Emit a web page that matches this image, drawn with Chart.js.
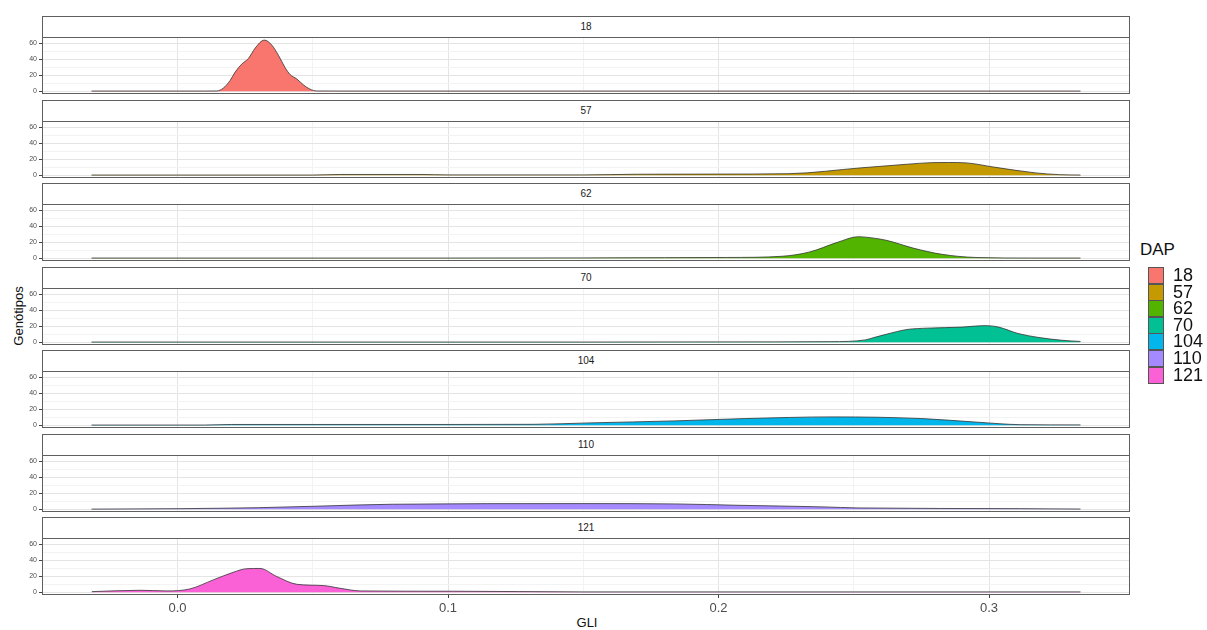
<!DOCTYPE html>
<html>
<head>
<meta charset="utf-8">
<script src="https://cdn.jsdelivr.net/npm/chart.js@4.4.0/dist/chart.umd.min.js"></script>
<style>
  body { margin: 0; background: #fff; font-family: "Liberation Sans", Arial, sans-serif; }
  #wrap { position: relative; width: 1207px; height: 630px; overflow: hidden; background: #fff; }
  .strip { position: absolute; box-sizing: border-box; border: 1px solid #5f5f5f; background: #fff;
           font-size: 10px; color: #1a1a1a; text-align: center; line-height: 20px; }
  canvas { position: absolute; left: 0; }
  .ytitle { position: absolute; left: 18px; top: 316px; transform: translate(-50%, -50%) rotate(-90deg);
            font-size: 13px; color: #111; white-space: nowrap; }
  .xtitle { position: absolute; left: 587px; top: 622px; transform: translate(-50%, -50%);
            font-size: 13px; color: #111; }
  .legtitle { position: absolute; left: 1140px; top: 240px; font-size: 17px; color: #111; }
  .key { position: absolute; left: 1148px; width: 16px; box-sizing: border-box; border: 1px solid #555; }
  .keylab { position: absolute; left: 1173px; font-size: 18px; color: #111; line-height: 17px; }
</style>
</head>
<body>
<div id="wrap">
  <div class="ytitle">Genótipos</div>
  <div class="xtitle">GLI</div>
  <div class="legtitle">DAP</div>
</div>
<script>
// DAP groups and ggplot default hues
const dapLabels = ['18', '57', '62', '70', '104', '110', '121'];
const dapColors = ['#F8766D', '#C49A00', '#53B400', '#00C094', '#00B6EB', '#A58AFF', '#FB61D7'];

// density curves (GLI, density)
const gli18  = [-0.0318, 0.0, 0.010, 0.0145, 0.0169, 0.0194, 0.0213, 0.0237, 0.0262, 0.0287, 0.0321, 0.0348, 0.0373, 0.0397, 0.0416, 0.0441, 0.0465, 0.049, 0.0515, 0.06, 0.15, 0.3338];
const dens18 = [0.3, 0.3, 0.3, 0.4, 3.9, 13.3, 24, 33.9, 41, 54, 64, 58, 45, 30, 21, 15.4, 8.1, 2.6, 0.4, 0.3, 0.3, 0.3];

const gli57  = [-0.0318, 0.05, 0.06, 0.09, 0.10, 0.15, 0.17, 0.20, 0.226, 0.253, 0.2697, 0.2787, 0.285, 0.2915, 0.3017, 0.3171, 0.326, 0.3338];
const dens57 = [0.3, 0.3, 1, 1, 0.5, 0.5, 1.3, 1.5, 2, 9.4, 13.8, 15.8, 16, 15.5, 10.3, 3, 0.8, 0.3];

const gli62  = [-0.0318, 0.10, 0.15, 0.18, 0.203, 0.2234, 0.2338, 0.244, 0.2517, 0.2567, 0.262, 0.2722, 0.2825, 0.2952, 0.3158, 0.3338];
const dens62 = [0.3, 0.3, 0.5, 0.8, 1, 2.5, 8, 20, 27, 25.5, 22.5, 12.5, 5, 1, 0.3, 0.3];

const gli70  = [-0.0318, 0.15, 0.20, 0.2415, 0.2543, 0.2575, 0.262, 0.2697, 0.2774, 0.2902, 0.295, 0.2992, 0.3035, 0.3107, 0.3184, 0.327, 0.3338];
const dens70 = [0.3, 0.3, 0.5, 0.8, 3, 6, 10, 16, 17.7, 19, 20.3, 20.8, 19, 11, 6, 2.5, 1];

const gli104  = [-0.0318, 0.01, 0.02, 0.10, 0.1316, 0.1525, 0.1838, 0.2099, 0.2425, 0.2751, 0.2959, 0.3115, 0.3338];
const dens104 = [0.3, 0.3, 1, 1, 1.2, 3, 5.5, 8.4, 10.5, 8.4, 3.8, 0.8, 0.5];

const gli110  = [-0.0318, 0.0013, 0.030, 0.0508, 0.0795, 0.1499, 0.1838, 0.2072, 0.2386, 0.2516, 0.3115, 0.3338];
const dens110 = [0.2, 0.8, 2, 3.8, 6.3, 7.1, 6.7, 5, 3, 1.7, 0.8, 0.3];

const gli121  = [-0.0317, -0.0139, -0.004, 0.0046, 0.0132, 0.0206, 0.0256, 0.0305, 0.0367, 0.0441, 0.0539, 0.0601, 0.0675, 0.102, 0.15, 0.3338];
const dens121 = [0.8, 2.5, 1.7, 4.2, 15.5, 25, 29.5, 29.8, 19.7, 10, 8.4, 5, 1.7, 1.3, 0.5, 0.5];

const panelGli  = [gli18, gli57, gli62, gli70, gli104, gli110, gli121];
const panelDens = [dens18, dens57, dens62, dens70, dens104, dens110, dens121];

// axes
const xTicks = [0, 0.1, 0.2, 0.3];
const xTickLabels = ['0.0', '0.1', '0.2', '0.3'];
const xMinor = [0.05, 0.15, 0.25];
const yTicks = [0, 20, 40, 60];
const yMinor = [10, 30, 50];

const isIn = (arr, v) => arr.some(t => Math.abs(t - v) < 1e-9);

const panelBox = {
  id: 'panelBox',
  afterDraw(chart) {
    const { ctx, chartArea: a } = chart;
    ctx.save();
    ctx.strokeStyle = '#5f5f5f';
    ctx.lineWidth = 1;
    ctx.strokeRect(Math.round(a.left) + 0.5, Math.round(a.top) + 0.5, Math.round(a.width) - 1, Math.round(a.height) - 1);
    ctx.restore();
  }
};

const wrap = document.getElementById('wrap');
const pitch = 83.55;
const plotH = 57;

dapLabels.forEach((lab, i) => {
  const isLast = i === dapLabels.length - 1;
  const stripTop = Math.round(16 + pitch * i);
  const plotTop = stripTop + 21;

  const strip = document.createElement('div');
  strip.className = 'strip';
  strip.style.left = '42px';
  strip.style.width = '1088px';
  strip.style.top = stripTop + 'px';
  strip.style.height = '22px';
  strip.textContent = lab;
  wrap.appendChild(strip);

  const cv = document.createElement('canvas');
  const h = 8 + plotH + (isLast ? 24 : 8);
  cv.width = 1140;
  cv.height = h;
  cv.style.top = (plotTop - 8) + 'px';
  cv.style.width = '1140px';
  cv.style.height = h + 'px';
  wrap.appendChild(cv);

  const points = panelGli[i].map((x, k) => ({ x: x, y: panelDens[i][k] }));

  new Chart(cv.getContext('2d'), {
    type: 'line',
    data: {
      datasets: [{
        data: points,
        fill: 'origin',
        backgroundColor: dapColors[i],
        borderColor: '#333333',
        borderWidth: 0.8,
        pointRadius: 0,
        cubicInterpolationMode: 'monotone'
      }]
    },
    options: {
      animation: false,
      responsive: false,
      maintainAspectRatio: false,
      layout: { padding: { top: 8, bottom: isLast ? 0 : 8, left: 0, right: 10 } },
      plugins: { legend: { display: false }, tooltip: { enabled: false } },
      scales: {
        x: {
          type: 'linear',
          min: -0.0501,
          max: 0.3521,
          border: { display: false },
          afterBuildTicks: (axis) => {
            axis.ticks = xMinor.concat(xTicks).sort((a, b) => a - b).map(v => ({ value: v }));
          },
          afterFit: (axis) => { axis.height = isLast ? 24 : 0; },
          grid: {
            color: (c) => (c.tick && isIn(xTicks, c.tick.value)) ? '#e4e4e4' : '#f3f3f3',
            drawTicks: isLast,
            tickLength: 3,
            tickColor: (c) => (c.tick && isIn(xTicks, c.tick.value)) ? '#444' : 'rgba(0,0,0,0)'
          },
          ticks: {
            display: isLast,
            padding: 3,
            color: '#4d4d4d',
            font: { family: '"Liberation Sans", Arial, sans-serif', size: 13 },
            maxRotation: 0,
            autoSkip: false,
            callback: (v) => {
              const k = xTicks.findIndex(t => Math.abs(t - v) < 1e-9);
              return k >= 0 ? xTickLabels[k] : '';
            }
          }
        },
        y: {
          min: -3.4,
          max: 67.9,
          border: { display: false },
          afterBuildTicks: (axis) => {
            axis.ticks = yTicks.concat(yMinor).sort((a, b) => a - b).map(v => ({ value: v }));
          },
          afterFit: (axis) => { axis.width = 42; },
          grid: {
            color: (c) => (c.tick && isIn(yTicks, c.tick.value)) ? '#e4e4e4' : '#f3f3f3',
            tickLength: 3,
            tickColor: (c) => (c.tick && isIn(yTicks, c.tick.value)) ? '#444' : 'rgba(0,0,0,0)'
          },
          ticks: {
            padding: 2,
            color: '#4d4d4d',
            font: { family: '"Liberation Sans", Arial, sans-serif', size: 7 },
            autoSkip: false,
            callback: (v) => isIn(yTicks, v) ? String(v) : ''
          }
        }
      }
    },
    plugins: [panelBox]
  });
});

// legend keys
dapLabels.forEach((lab, i) => {
  const top = 267 + 16.6 * i;
  const key = document.createElement('div');
  key.className = 'key';
  key.style.top = Math.round(top) + 'px';
  key.style.height = '17px';
  key.style.background = dapColors[i];
  wrap.appendChild(key);
  const t = document.createElement('div');
  t.className = 'keylab';
  t.style.top = Math.round(top) + 'px';
  t.textContent = lab;
  wrap.appendChild(t);
});
</script>
</body>
</html>
